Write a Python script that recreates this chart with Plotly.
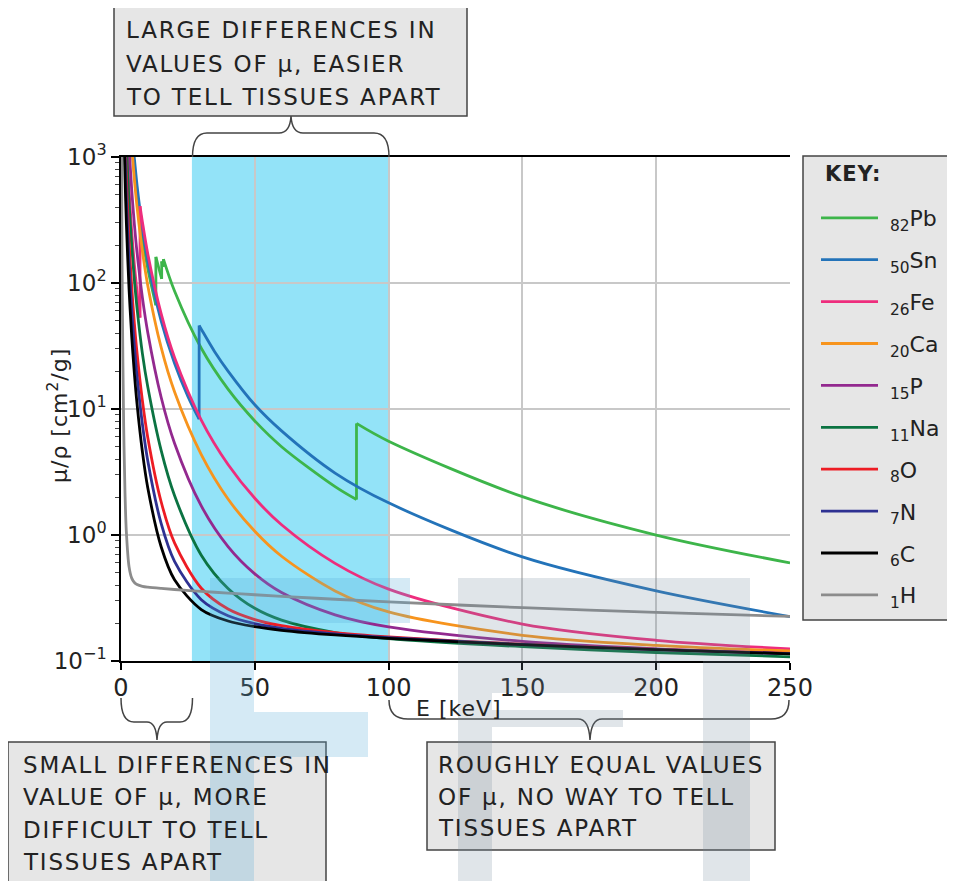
import plotly.graph_objects as go

# ---------------- data (mass attenuation coefficient mu/rho, cm^2/g) ----------------
E_Pb = [4, 5, 6, 8, 10, 13.035, 13.035, 15, 15.2, 15.2, 15.861, 15.861, 20, 30, 40, 50, 60, 80, 88.0, 88.0, 100, 150, 200, 250]
MU_Pb = [1290, 739, 469, 229, 130.6, 66.55, 161.3, 111.6, 107.8, 148.5, 134.4, 154.8, 86.36, 30.32, 14.36, 8.041, 5.021, 2.419, 1.910, 7.683, 5.549, 2.014, 0.9985, 0.600]

E_Sn = [4.6, 5, 6, 8, 10, 15, 20, 25, 29.2, 29.2, 30, 35, 40, 50, 60, 80, 100, 150, 200, 250]
MU_Sn = [1150, 971, 596, 273, 149, 50, 23.1, 12.6, 8.3, 46, 43, 28.5, 20, 10.8, 6.7, 3.1, 1.8, 0.67, 0.36, 0.225]

E_Fe = [2, 3, 4, 5, 6, 7.112, 7.112, 8, 10, 15, 20, 30, 40, 50, 60, 80, 100, 150, 200, 250]
MU_Fe = [1626, 557.6, 256.7, 139.5, 84.6, 53.19, 407.6, 305.6, 170.6, 57.08, 25.68, 8.176, 3.629, 1.958, 1.205, 0.5952, 0.3717, 0.1964, 0.1460, 0.125]

E_Ca = [4.038, 5, 6, 8, 10, 15, 20, 30, 40, 50, 60, 80, 100, 150, 200, 250]
MU_Ca = [1210, 666, 400, 179, 95.7, 30.8, 13.7, 4.35, 1.93, 1.07, 0.678, 0.360, 0.245, 0.160, 0.133, 0.120]

E_P = [2.1455, 3, 4, 5, 6, 8, 10, 15, 20, 30, 40, 50, 60, 80, 100, 150, 200, 250]
MU_P = [3250, 1250, 551, 292, 174, 76.5, 40.49, 12.39, 5.352, 1.700, 0.8096, 0.4916, 0.3494, 0.2324, 0.1865, 0.1432, 0.1250, 0.114]

E_Na = [1.5, 2, 3, 4, 5, 6, 8, 10, 15, 20, 30, 40, 50, 60, 80, 100, 150, 200, 250]
MU_Na = [2800, 1300, 440, 199, 106, 63, 27.5, 15.0, 4.694, 2.057, 0.6920, 0.3766, 0.2619, 0.2111, 0.1683, 0.1507, 0.1300, 0.1168, 0.108]

E_LIGHT = [1, 1.5, 2, 3, 4, 5, 6, 8, 10, 15, 20, 30, 40, 50, 60, 80, 100, 150, 200, 250]
MU_O = [4590, 1549, 694.9, 217.1, 93.15, 47.90, 27.70, 11.63, 5.952, 1.836, 0.8651, 0.3779, 0.2585, 0.2132, 0.1907, 0.1678, 0.1551, 0.1361, 0.1237, 0.1148]
MU_N = [3311, 1083, 476.9, 145.6, 61.66, 31.44, 18.09, 7.562, 3.879, 1.236, 0.6178, 0.3066, 0.2288, 0.1980, 0.1817, 0.1639, 0.1529, 0.1353, 0.1233, 0.1145]
MU_C = [2211, 700.2, 302.6, 90.33, 37.78, 19.12, 10.95, 4.576, 2.373, 0.8071, 0.4420, 0.2562, 0.2076, 0.1871, 0.1753, 0.1610, 0.1514, 0.1347, 0.1229, 0.114]

E_H = [0.2, 0.3, 0.5, 1, 1.5, 2, 3, 4, 5, 6, 8, 10, 15, 20, 30, 40, 50, 60, 80, 100, 150, 200, 250]
MU_H = [1460, 380, 70, 7.217, 2.148, 1.059, 0.5612, 0.4546, 0.4193, 0.4042, 0.3914, 0.3854, 0.3764, 0.3695, 0.3570, 0.3458, 0.3355, 0.3260, 0.3091, 0.2944, 0.2651, 0.2429, 0.226]

SERIES = [
    ("<sub>82</sub>Pb", E_Pb, MU_Pb, "#3db54a"),
    ("<sub>50</sub>Sn", E_Sn, MU_Sn, "#2373b9"),
    ("<sub>26</sub>Fe", E_Fe, MU_Fe, "#ee2d7d"),
    ("<sub>20</sub>Ca", E_Ca, MU_Ca, "#f7941d"),
    ("<sub>15</sub>P", E_P, MU_P, "#93298f"),
    ("<sub>11</sub>Na", E_Na, MU_Na, "#0b7342"),
    ("<sub>8</sub>O", E_LIGHT, MU_O, "#ed1c24"),
    ("<sub>7</sub>N", E_LIGHT, MU_N, "#2e3192"),
    ("<sub>6</sub>C", E_LIGHT, MU_C, "#000000"),
    ("<sub>1</sub>H", E_H, MU_H, "#8c8c8c"),
]

X_TICKS = [0, 50, 100, 150, 200, 250]
Y_TICKS = [0.1, 1, 10, 100, 1000]
Y_TICKTEXT = ["10<sup>\u22121</sup>", "10<sup>0</sup>", "10<sup>1</sup>", "10<sup>2</sup>", "10<sup>3</sup>"]
BAND = (26.5, 100)

# ---------------- geometry (screen pixels; page body has an 8px margin) ----------------
OFF = 8
W, H = 955 - OFF, 881 - OFF
L, R, T, B = 121, 790, 157, 661   # plot area in screen pixels


def px(x):
    return (x - L) / (R - L)


def py(y):
    return (B - y) / (B - T)


FONT = "DejaVu Sans"
TXT = "#222222"
LW = 2.8

fig = go.Figure()
for name, e, mu, col in SERIES:
    # split the series at absorption edges (repeated energies): smooth pieces + vertical jumps
    pieces = []
    start = 0
    for i in range(len(e) - 1):
        if e[i] == e[i + 1]:
            pieces.append(("curve", e[start:i + 1], mu[start:i + 1]))
            pieces.append(("edge", e[i:i + 2], mu[i:i + 2]))
            start = i + 1
    pieces.append(("curve", e[start:], mu[start:]))
    first = True
    for kind, xs, ys in pieces:
        fig.add_trace(go.Scatter(
            x=xs, y=ys, mode="lines", name="\u00a0" + name, legendgroup=name, showlegend=first,
            line=dict(color=col, width=LW, shape="spline" if kind == "curve" else "linear",
                      smoothing=0.9)))
        first = False

shapes = []
shapes.append(dict(type="rect", xref="x", yref="paper", x0=BAND[0], x1=BAND[1], y0=0, y1=1,
                   fillcolor="#93e3f8", line=dict(width=0), layer="below"))


def brace(cmds):
    out = []
    for c in cmds:
        if isinstance(c, str):
            out.append(c)
        else:
            out.append("%.5f,%.5f" % (px(c[0]), py(c[1])))
    return " ".join(out)


BR_COL = "#444444"
shapes.append(dict(type="path", xref="paper", yref="paper", line=dict(color=BR_COL, width=1.5),
                   path=brace(["M", (192.5, 157), "Q", (192.5, 133), (207, 133), "L", (279, 133),
                               "Q", (290, 133), (291, 116), "Q", (292, 133), (303, 133), "L", (374, 133),
                               "Q", (389, 133), (389, 157)])))
shapes.append(dict(type="path", xref="paper", yref="paper", line=dict(color=BR_COL, width=1.5),
                   path=brace(["M", (121, 698), "Q", (121, 722), (134, 722), "L", (147, 722),
                               "Q", (156, 722), (157, 740), "Q", (158, 722), (167, 722), "L", (180, 722),
                               "Q", (192.5, 722), (192.5, 698)])))
shapes.append(dict(type="path", xref="paper", yref="paper", line=dict(color=BR_COL, width=1.5),
                   path=brace(["M", (389, 700), "Q", (389, 719), (408, 719), "L", (578, 719),
                               "Q", (589, 719), (590, 740), "Q", (591, 719), (602, 719), "L", (771, 719),
                               "Q", (789, 719), (789, 700)])))

BOX_FILL = "#e6e6e6"
BOX_LINE = "#444444"
for (x0, y0, x1, y1) in [(114, 7, 467, 116), (8, 742, 326, 900), (427, 742, 775, 850), (803, 156, 1000, 620)]:
    shapes.append(dict(type="rect", xref="paper", yref="paper", x0=px(x0), x1=px(x1), y0=py(y1), y1=py(y0),
                       fillcolor=BOX_FILL, line=dict(color=BOX_LINE, width=1.5), layer="above"))

# faint background watermark blocks seen in the picture
WM_BLUE = "rgba(87,171,215,0.25)"
WM_GRAY = "rgba(115,135,155,0.22)"
for (x0, y0, x1, y1, c) in [
    (210, 578, 410, 623, WM_BLUE), (210, 623, 254, 881, WM_BLUE), (254, 712, 368, 757, WM_BLUE),
    (458, 578, 750, 661, WM_GRAY), (458, 661, 660, 693, WM_GRAY), (703, 661, 750, 881, WM_GRAY),
    (458, 693, 492, 881, WM_GRAY), (492, 710, 623, 727, WM_GRAY),
]:
    shapes.append(dict(type="rect", xref="paper", yref="paper", x0=px(x0), x1=px(x1), y0=py(y1), y1=py(y0),
                       fillcolor=c, line=dict(width=0), layer="above"))

ann = []


def text_at(x, y, text, size=23, xanchor="left", spacing=1.8, bold=False, angle=0):
    t = text
    if spacing:
        t = '<span style="letter-spacing:%spx">%s</span>' % (spacing, t)
    if bold:
        t = "<b>" + t + "</b>"
    ann.append(dict(xref="paper", yref="paper", x=px(x), y=py(y), xanchor=xanchor, yanchor="middle",
                    text=t, showarrow=False, textangle=angle,
                    font=dict(family=FONT, size=size, color=TXT)))


for i, t in enumerate(["LARGE DIFFERENCES IN", "VALUES OF \u03bc, EASIER", "TO TELL TISSUES APART"]):
    text_at(124, 30 + 33.5 * i, t)
for i, t in enumerate(["SMALL DIFFERENCES IN", "VALUE OF \u03bc, MORE", "DIFFICULT TO TELL", "TISSUES APART"]):
    text_at(21, 765 + 32.3 * i, t)
for i, t in enumerate(["ROUGHLY EQUAL VALUES", "OF \u03bc, NO WAY TO TELL", "TISSUES APART"]):
    text_at(436, 765 + 31.7 * i, t)

text_at(459, 708, "E [keV]", size=22, xanchor="center", spacing=1)
ann.append(dict(xref="paper", yref="paper", x=px(58), y=py(416), xanchor="center", yanchor="middle",
                text='<span style="letter-spacing:1px">\u03bc/\u03c1 [cm<sup>2</sup>/g]</span>',
                showarrow=False, textangle=-90, font=dict(family=FONT, size=22, color=TXT)))
text_at(823, 174, "KEY:", size=21, spacing=1, bold=True)

minor_vals = []
for d in [0.1, 1, 10, 100]:
    for k in range(2, 10):
        minor_vals.append(d * k)

fig.update_layout(
    width=W, height=H,
    margin=dict(l=L - OFF, r=W - (R - OFF), t=T - OFF, b=H - (B - OFF), autoexpand=False),
    paper_bgcolor="white", plot_bgcolor="white",
    font=dict(family=FONT, color=TXT),
    shapes=shapes, annotations=ann,
    legend=dict(x=px(816), y=py(197), xanchor="left", yanchor="top",
                bgcolor="rgba(0,0,0,0)", borderwidth=0, maxheight=900,
                font=dict(family=FONT, size=22, color=TXT),
                itemwidth=57, tracegroupgap=10.3),
    xaxis=dict(range=[0, 250], tickvals=X_TICKS, showline=True, linecolor="black", linewidth=1.5,
               mirror=True, ticks="outside", ticklen=7, tickwidth=1.5, tickcolor="black",
               showgrid=True, gridcolor="#c8c8c8", gridwidth=2, zeroline=False, ticklabelstandoff=-3,
               tickfont=dict(family=FONT, size=24, color=TXT)),
    yaxis=dict(type="log", range=[-1, 3], tickvals=Y_TICKS, ticktext=Y_TICKTEXT,
               showline=True, linecolor="black", linewidth=1.5, ticks="outside", ticklen=8,
               tickwidth=1.5, tickcolor="black", showgrid=True, gridcolor="#c8c8c8", gridwidth=2,
               zeroline=False, tickfont=dict(family=FONT, size=23, color=TXT),
               minor=dict(tickvals=minor_vals, ticks="outside", ticklen=4, tickwidth=1, tickcolor="#444444",
                          showgrid=False)),
)

fig.write_html("out.html")
